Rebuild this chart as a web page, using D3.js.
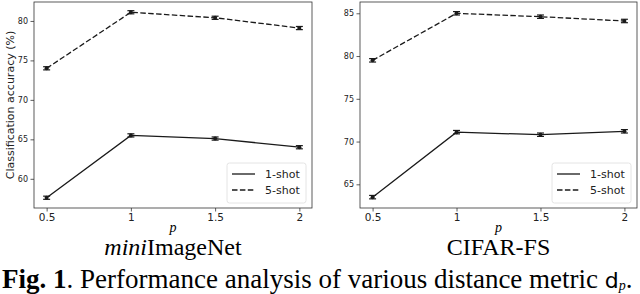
<!DOCTYPE html>
<html><head><meta charset="utf-8">
<script src="https://cdn.jsdelivr.net/npm/d3@7"></script>
<style>body{margin:0;background:#fff}svg{display:block}</style>
</head><body>
<svg id="c" width="640" height="294"></svg>
<script>
const pValues = [0.5, 1, 1.5, 2];
const xTicks = [0.5, 1, 1.5, 2];
const xTickLabels = ["0.5", "1", "1.5", "2"];
const mini1shot = [57.6, 65.5, 65.1, 64.0];
const mini5shot = [74.0, 81.1, 80.4, 79.1];
const miniErr1 = [0.2, 0.2, 0.2, 0.2];
const miniErr5 = [0.2, 0.2, 0.2, 0.2];
const miniYTicks = [60, 65, 70, 75, 80];
const cifar1shot = [63.5, 71.1, 70.8, 71.2];
const cifar5shot = [79.5, 85.0, 84.6, 84.1];
const cifarErr1 = [0.2, 0.2, 0.2, 0.2];
const cifarErr5 = [0.2, 0.2, 0.2, 0.2];
const cifarYTicks = [65, 70, 75, 80, 85];
const seriesNames = ["1-shot", "5-shot"];
const datasets = ["miniImageNet", "CIFAR-FS"];

const svg = d3.select("#c");
const ink = "#1a1a1a";

function panel(x0, x1, yDomain, yTicks, s1, e1, s5, e5, titleNode) {
  const x = d3.scaleLinear().domain([0.425, 2.075]).range([x0, x1]);
  const y = d3.scaleLinear().domain(yDomain).range([208, 2]);
  const g = svg.append("g");
  const ax = g.append("g").attr("transform", "translate(0,208)")
    .call(d3.axisBottom(x).tickValues(xTicks).tickFormat((d,i)=>xTickLabels[i]).tickSize(3.5).tickPadding(2));
  const ay = g.append("g").attr("transform", `translate(${x0},0)`)
    .call(d3.axisLeft(y).tickValues(yTicks).tickSize(3.5).tickPadding(2.5));
  [ax, ay].forEach(a => {
    a.select(".domain").remove();
    a.selectAll("line").attr("stroke", "#333").attr("stroke-width", 0.8);
    a.selectAll("text").attr("font-family", "DejaVu Sans").attr("fill", "#222");
  });
  ax.selectAll("text").attr("font-size", 10.5);
  ay.selectAll("text").attr("font-size", 8);
  const line = d3.line().x((d,i)=>x(pValues[i])).y(d=>y(d));
  [[s1, e1, null], [s5, e5, "5.5,2.4"]].forEach(([s, e, dash]) => {
    g.append("path").datum(s).attr("d", line).attr("fill", "none")
      .attr("stroke", ink).attr("stroke-width", 1.3)
      .attr("stroke-dasharray", dash);
    const eb = g.append("g").selectAll("g").data(s).join("g");
    eb.append("line").attr("x1",(d,i)=>x(pValues[i])).attr("x2",(d,i)=>x(pValues[i]))
      .attr("y1",(d,i)=>y(d-e[i])).attr("y2",(d,i)=>y(d+e[i])).attr("stroke", ink).attr("stroke-width",1.2);
    [-1, 1].forEach(sg => {
      eb.append("line").attr("x1",(d,i)=>x(pValues[i])-3.5).attr("x2",(d,i)=>x(pValues[i])+3.5)
        .attr("y1",(d,i)=>y(d+sg*e[i])).attr("y2",(d,i)=>y(d+sg*e[i])).attr("stroke", ink).attr("stroke-width",1.2);
    });
    eb.append("circle").attr("cx",(d,i)=>x(pValues[i])).attr("cy",d=>y(d)).attr("r",2).attr("fill", ink);
  });
  g.append("rect").attr("x", x0).attr("y", 2).attr("width", x1-x0).attr("height", 206)
    .attr("fill", "none").attr("stroke", "#333").attr("stroke-width", 0.8);
  const lx = x1 - 85, ly = 163;
  g.append("rect").attr("x", lx).attr("y", ly).attr("width", 79).attr("height", 40).attr("rx", 2.5)
    .attr("fill", "#fff").attr("fill-opacity", 0.8).attr("stroke", "#ddd").attr("stroke-width", 0.8);
  seriesNames.forEach((n, i) => {
    const yy = ly + 11 + i * 16;
    g.append("line").attr("x1", lx + 5).attr("x2", lx + 28).attr("y1", yy).attr("y2", yy)
      .attr("stroke", ink).attr("stroke-width", 1.3).attr("stroke-dasharray", i ? "5.5,2.4" : null);
    g.append("text").attr("x", lx + 38).attr("y", yy + 4).text(n)
      .attr("font-family", "DejaVu Sans").attr("font-size", 11).attr("fill", "#222");
  });
  g.append("text").attr("x", (x0+x1)/2).attr("y", 232).attr("text-anchor", "middle")
    .attr("font-family", "Liberation Serif").attr("font-style", "italic").attr("font-size", 14).text("p");
  const t = g.append("text").attr("x", (x0+x1)/2).attr("y", 255).attr("text-anchor", "middle")
    .attr("font-family", "Liberation Serif").attr("font-size", 24);
  titleNode(t);
}

panel(34, 312, [56.3, 82.4], miniYTicks, mini1shot, miniErr1, mini5shot, miniErr5, t => {
  t.append("tspan").attr("font-style", "italic").text("mini");
  t.append("tspan").text("ImageNet");
});
panel(360, 637, [62.23, 86.32], cifarYTicks, cifar1shot, cifarErr1, cifar5shot, cifarErr5, t => {
  t.text(datasets[1]);
});

svg.append("text").attr("transform", "translate(14,105) rotate(-90)").attr("text-anchor", "middle")
  .attr("font-family", "DejaVu Sans").attr("font-size", 11).attr("fill", "#222").text("Classification accuracy (%)");

const cap = svg.append("text").attr("x", 2).attr("y", 288)
  .attr("font-family", "Liberation Serif").attr("font-size", 27).attr("fill", "#000");
cap.append("tspan").attr("font-weight", "bold").text("Fig. 1");
cap.append("tspan").text(". Performance analysis of various distance metric ");
cap.append("tspan").attr("font-family", "DejaVu Sans").attr("font-size", 22).text("d");
cap.append("tspan").attr("font-style", "italic").attr("font-size", 14).attr("dy", 2).text("p");
cap.append("tspan").attr("dy", -2).text(".");
</script>
</body></html>
